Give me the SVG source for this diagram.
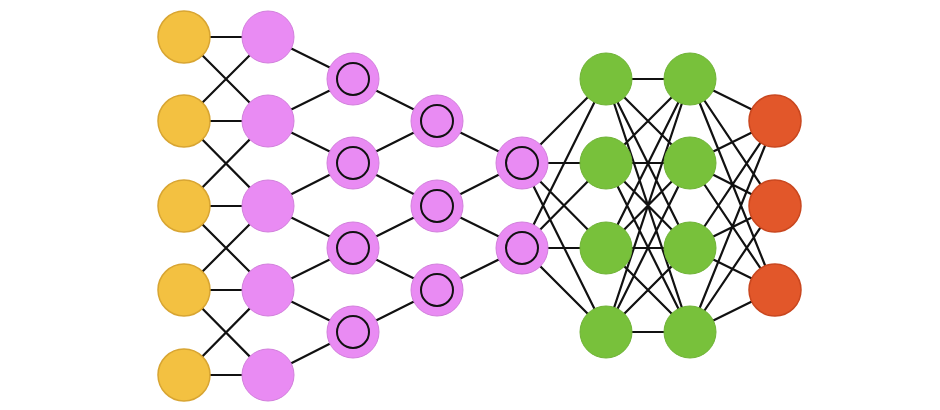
<svg xmlns="http://www.w3.org/2000/svg" width="940" height="410" viewBox="0 0 940 410">
<style>
.e{stroke:#111;stroke-width:2.2;fill:none}
.y{fill:#F3C141;stroke:#D8A532;stroke-width:1.5}
.p{fill:#E98BF3;stroke:#D27FDC;stroke-width:1}
.g{fill:#78C13B;stroke:#6FB336;stroke-width:1}
.r{fill:#E2572A;stroke:#C9471F;stroke-width:1.5}
.i{fill:none;stroke:#111;stroke-width:2}
</style>
<rect width="940" height="410" fill="#fff"/>
<g id="connectors" class="e">
<path d="M184 37L268 37M184 37L268 121M184 121L268 37M184 121L268 121M184 121L268 206M184 206L268 121M184 206L268 206M184 206L268 290M184 290L268 206M184 290L268 290M184 290L268 375M184 375L268 290M184 375L268 375"/>
<path d="M268 37L353 79M268 121L353 79M268 121L353 163M268 206L353 163M268 206L353 248M268 290L353 248M268 290L353 332M268 375L353 332"/>
<path d="M353 79L437 121M353 163L437 121M353 163L437 206M353 248L437 206M353 248L437 290M353 332L437 290"/>
<path d="M437 121L522 163M437 206L522 163M437 206L522 248M437 290L522 248"/>
<path d="M522 163L606 79M522 163L606 163M522 163L606 248M522 163L606 332M522 248L606 79M522 248L606 163M522 248L606 248M522 248L606 332"/>
<path d="M606 79L690 79M606 79L690 163M606 79L690 248M606 79L690 332M606 163L690 79M606 163L690 163M606 163L690 248M606 163L690 332M606 248L690 79M606 248L690 163M606 248L690 248M606 248L690 332M606 332L690 79M606 332L690 163M606 332L690 248M606 332L690 332"/>
<path d="M690 79L775 121M690 79L775 206M690 79L775 290M690 163L775 121M690 163L775 206M690 163L775 290M690 248L775 121M690 248L775 206M690 248L775 290M690 332L775 121M690 332L775 206M690 332L775 290"/>
</g>
<g id="input">
<circle class="y" cx="184" cy="37" r="26"/><circle class="y" cx="184" cy="121" r="26"/><circle class="y" cx="184" cy="206" r="26"/><circle class="y" cx="184" cy="290" r="26"/><circle class="y" cx="184" cy="375" r="26"/>
</g>
<g id="hidden1">
<circle class="p" cx="268" cy="37" r="26"/><circle class="p" cx="268" cy="121" r="26"/><circle class="p" cx="268" cy="206" r="26"/><circle class="p" cx="268" cy="290" r="26"/><circle class="p" cx="268" cy="375" r="26"/>
</g>
<g id="conv1">
<circle class="p" cx="353" cy="79" r="26"/><circle class="i" cx="353" cy="79" r="16"/>
<circle class="p" cx="353" cy="163" r="26"/><circle class="i" cx="353" cy="163" r="16"/>
<circle class="p" cx="353" cy="248" r="26"/><circle class="i" cx="353" cy="248" r="16"/>
<circle class="p" cx="353" cy="332" r="26"/><circle class="i" cx="353" cy="332" r="16"/>
</g>
<g id="conv2">
<circle class="p" cx="437" cy="121" r="26"/><circle class="i" cx="437" cy="121" r="16"/>
<circle class="p" cx="437" cy="206" r="26"/><circle class="i" cx="437" cy="206" r="16"/>
<circle class="p" cx="437" cy="290" r="26"/><circle class="i" cx="437" cy="290" r="16"/>
</g>
<g id="conv3">
<circle class="p" cx="522" cy="163" r="26"/><circle class="i" cx="522" cy="163" r="16"/>
<circle class="p" cx="522" cy="248" r="26"/><circle class="i" cx="522" cy="248" r="16"/>
</g>
<g id="dense1">
<circle class="g" cx="606" cy="79" r="26"/><circle class="g" cx="606" cy="163" r="26"/><circle class="g" cx="606" cy="248" r="26"/><circle class="g" cx="606" cy="332" r="26"/>
</g>
<g id="dense2">
<circle class="g" cx="690" cy="79" r="26"/><circle class="g" cx="690" cy="163" r="26"/><circle class="g" cx="690" cy="248" r="26"/><circle class="g" cx="690" cy="332" r="26"/>
</g>
<g id="output">
<circle class="r" cx="775" cy="121" r="26"/><circle class="r" cx="775" cy="206" r="26"/><circle class="r" cx="775" cy="290" r="26"/>
</g>
</svg>
